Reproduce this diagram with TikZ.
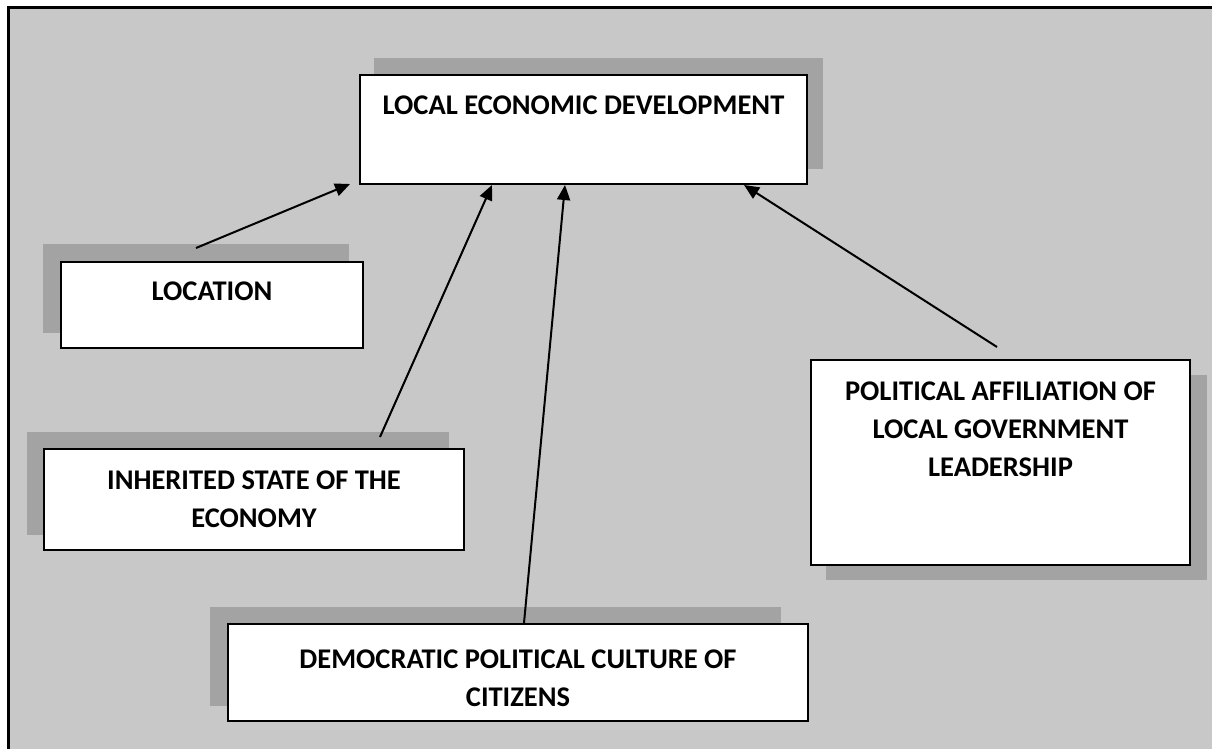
\documentclass[tikz,border=0pt]{standalone}
\usepackage{fontspec}
\setmainfont{Carlito}
\usetikzlibrary{calc,arrows.meta}
\definecolor{bgc}{RGB}{200,200,200}
\definecolor{shc}{RGB}{163,163,163}
\tikzset{
  box/.style={draw=black, fill=white, line width=2pt, inner sep=0pt},
  shade/.style={fill=shc, draw=none},
  lbl/.style={font=\bfseries\fontsize{28.5}{38}\selectfont, align=center, inner sep=0pt},
  arr/.style={line width=2pt, -{Triangle[length=15pt,width=13pt]}}
}
\begin{document}
\begin{tikzpicture}[x=1pt,y=-1pt]
\useasboundingbox (0,0) rectangle (1212,749);
% background frame
\fill[bgc] (8,8) rectangle (1212,749);
\draw[line width=3pt] (1212,8) -- (8,8) -- (8,749);
% shadows
\fill[shade] (374,58) rectangle (823,169);
\fill[shade] (43,244) rectangle (349,333);
\fill[shade] (27,432) rectangle (449,535);
\fill[shade] (210,607) rectangle (781,706);
\fill[shade] (826,375) rectangle (1207,580);
% boxes
\node[box, minimum width=447pt, minimum height=109pt] (led) at (583.5,129.5) {};
\node[box, minimum width=302pt, minimum height=86pt] (loc) at (212,305) {};
\node[box, minimum width=420pt, minimum height=101pt] (inh) at (254,499.5) {};
\node[box, minimum width=580pt, minimum height=97pt] (dem) at (518,672.5) {};
\node[box, minimum width=379pt, minimum height=205pt] (pol) at (1000.5,462.5) {};
% labels
\node[lbl] (ledt) at (583.5,105) {LOCAL ECONOMIC DEVELOPMENT};
\node[lbl] (loct) at (212,291) {LOCATION};
\node[lbl] (inht) at (254,499) {INHERITED STATE OF THE\\ECONOMY};
\node[lbl] (demt) at (518,678.5) {DEMOCRATIC POLITICAL CULTURE OF\\CITIZENS};
\node[lbl] (polt) at (1000.5,429.5) {POLITICAL AFFILIATION OF\\LOCAL GOVERNMENT\\LEADERSHIP};
% connectors
\draw[arr] ($(loc.north west)+(136,-13)$) -- ($(led.south west)+(-9,-1)$);
\draw[arr] ($(inh.north west)+(337,-11)$) -- ($(led.south west)+(133,0)$);
\draw[arr] ($(dem.north west)+(297,0)$) -- ($(led.south west)+(206,0)$);
\draw[arr] ($(pol.north west)+(187,-12)$) -- ($(led.south west)+(385,0)$);
\end{tikzpicture}
\end{document}
